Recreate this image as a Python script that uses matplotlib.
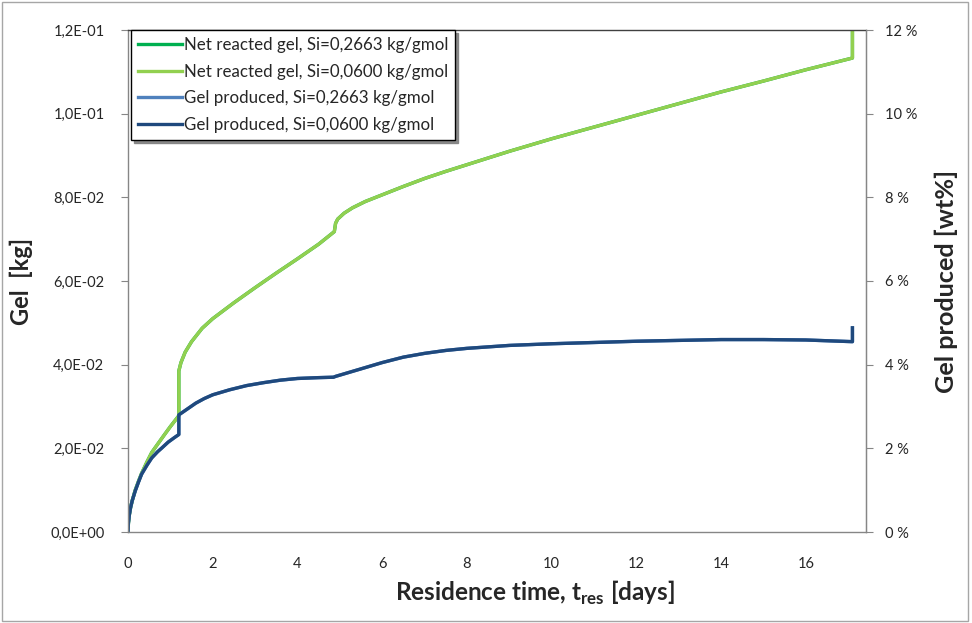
import matplotlib
matplotlib.use("Agg")
import matplotlib.pyplot as plt
from matplotlib.ticker import FuncFormatter, MultipleLocator
from matplotlib.patches import Rectangle

plt.rcParams['font.family'] = ['Lato', 'DejaVu Sans']
plt.rcParams['mathtext.fontset'] = 'custom'
plt.rcParams['mathtext.rm'] = 'Lato'
plt.rcParams['mathtext.bf'] = 'Lato:bold'

# Residence time [days] and gel [kg] for each series
t_net_006 = [0.0, 0.01, 0.03, 0.06, 0.1, 0.17, 0.25, 0.32, 0.45, 0.56, 0.7, 0.87, 1.0, 1.1, 1.2,
             1.2, 1.25, 1.35, 1.5, 1.75, 2.0, 2.5, 3.0, 3.5, 4.0, 4.5, 4.87, 4.9, 4.95,
             5.1, 5.3, 5.6, 6.0, 6.5, 7.0, 7.5, 8.0, 9.0, 10.0, 11.0, 12.0, 13.0, 14.0, 15.0, 16.0,
             17.1, 17.1]
g_net_006 = [0.0, 0.0022, 0.0040, 0.0058, 0.0075, 0.0100, 0.0122, 0.0140, 0.0168, 0.0190, 0.0210,
             0.0234, 0.0252, 0.0265, 0.0278,
             0.0385, 0.0405, 0.0430, 0.0455, 0.0487, 0.0510, 0.0548, 0.0584, 0.0619, 0.0653, 0.0688,
             0.0718, 0.0738, 0.0748,
             0.0762, 0.0775, 0.0790, 0.0806, 0.0826, 0.0845, 0.0862, 0.0878, 0.0910, 0.0940, 0.0968,
             0.0996, 0.1024, 0.1052, 0.1078, 0.1105, 0.1133, 0.1250]

t_prod_006 = [0.0, 0.01, 0.03, 0.06, 0.1, 0.17, 0.25, 0.32, 0.45, 0.56, 0.7, 0.8, 0.95, 1.1, 1.2,
              1.2, 1.4, 1.6, 1.8, 2.0, 2.4, 2.8, 3.2, 3.6, 4.0, 4.5, 4.85, 4.9,
              5.0, 5.5, 6.0, 6.5, 7.0, 7.5, 8.0, 9.0, 10.0, 11.0, 12.0, 13.0, 14.0, 15.0, 16.0,
              17.1, 17.1]
g_prod_006 = [0.0, 0.0022, 0.0040, 0.0058, 0.0075, 0.0098, 0.0120, 0.0138, 0.0160, 0.0177, 0.0192,
              0.0201, 0.0215, 0.0226, 0.0233,
              0.0280, 0.0294, 0.0308, 0.0319, 0.0328, 0.0340, 0.0350, 0.0357, 0.0363, 0.0367, 0.0369,
              0.0370, 0.0372,
              0.0375, 0.0390, 0.0405, 0.0418, 0.0427, 0.0434, 0.0439, 0.0446, 0.0450, 0.0453, 0.0456,
              0.0458, 0.0460, 0.0460, 0.0459, 0.0455, 0.0488]

# Si=0,2663 series coincide with the Si=0,0600 series (hidden underneath)
t_net_2663 = t_net_006
g_net_2663 = g_net_006
t_prod_2663 = t_prod_006
g_prod_2663 = g_prod_006

labels = ["Net reacted gel, Si=0,2663 kg/gmol",
          "Net reacted gel, Si=0,0600 kg/gmol",
          "Gel produced, Si=0,2663 kg/gmol",
          "Gel produced, Si=0,0600 kg/gmol"]
colors = ["#00B050", "#92D050", "#4F81BD", "#1F497D"]

x_ticks = [0, 2, 4, 6, 8, 10, 12, 14, 16]
right_ticks = [0, 2, 4, 6, 8, 10, 12]

fig = plt.figure(figsize=(9.72, 6.23), dpi=100)
ax = fig.add_axes([128/972, 1-532/623, (866-128)/972, (532-30)/623])

lw = 2.4
ax.plot(t_net_2663, g_net_2663, color=colors[0], lw=lw, label=labels[0], solid_joinstyle='round')
ax.plot(t_net_006, g_net_006, color=colors[1], lw=lw, label=labels[1], solid_joinstyle='round')
ax.plot(t_prod_2663, g_prod_2663, color=colors[2], lw=lw, label=labels[2], solid_joinstyle='round')
ax.plot(t_prod_006, g_prod_006, color=colors[3], lw=lw, label=labels[3], solid_joinstyle='round')

ax.set_xlim(0, 17.42)
ax.set_ylim(0, 0.12)
ax.set_xticks(x_ticks)
ax.yaxis.set_major_locator(MultipleLocator(0.02))
ax.yaxis.set_major_formatter(FuncFormatter(lambda v, p: f"{v:.1E}".replace('.', ',')))

txtc = "#262626"
ax.tick_params(axis='x', length=0, pad=18, labelsize=10.5, labelcolor=txtc)
ax.tick_params(axis='y', direction='out', length=5, width=0.8, color="#868686", pad=12,
               labelsize=10.5, labelcolor=txtc)

for s in ['left', 'bottom', 'right']:
    ax.spines[s].set_color("#868686")
    ax.spines[s].set_linewidth(1.0)
ax.spines['top'].set_color("#404040")
ax.spines['top'].set_linewidth(1.0)

ax.set_ylabel("Gel  [kg]", fontsize=17, fontweight='bold', color=txtc, labelpad=12)
ax.set_xlabel(r"Residence time, t$_\mathbf{res}$ [days]", fontsize=17.5, fontweight='bold',
              color=txtc)
ax.xaxis.set_label_coords(0.551, -0.093)

ax2 = ax.twinx()
ax2.set_ylim(0, 12)
ax2.set_yticks(right_ticks)
ax2.set_yticklabels([f"{v} %" for v in right_ticks])
ax2.tick_params(axis='y', direction='out', length=5, width=0.8, color="#868686", pad=9,
                labelsize=10.5, labelcolor=txtc)
for s in ['left', 'bottom', 'top']:
    ax2.spines[s].set_visible(False)
ax2.spines['right'].set_color("#868686")
ax2.set_ylabel("Gel produced [wt%]", fontsize=18.2, fontweight='bold', color=txtc, labelpad=12)

leg = ax.legend(loc='upper left', bbox_to_anchor=(0.004, 1.0), frameon=True, fancybox=False,
                shadow={'color': '#7f7f7f', 'alpha': 0.9}, edgecolor='black', framealpha=1,
                fontsize=12.2, handlelength=2.6, handletextpad=0.1, labelspacing=0.62,
                borderpad=0.42, borderaxespad=0.0)
leg.get_frame().set_linewidth(1.0)
for txt in leg.get_texts():
    txt.set_color(txtc)

fig.patches.append(Rectangle((0.002, 0.004), 0.994, 0.992, transform=fig.transFigure,
                             fill=False, edgecolor="#a6a6a6", linewidth=1.0))

fig.savefig("out.png", dpi=100)
